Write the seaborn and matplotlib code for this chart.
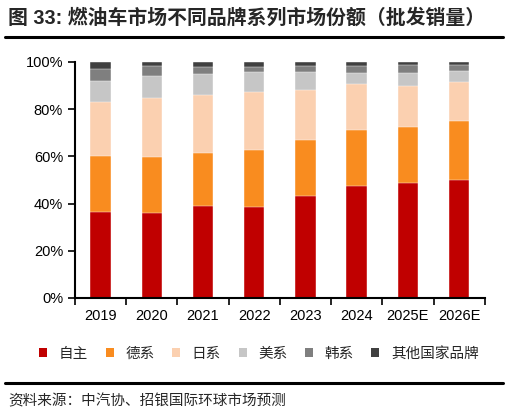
import matplotlib
matplotlib.use("Agg")
import matplotlib.pyplot as plt
from matplotlib.patches import Patch
from matplotlib.ticker import FixedLocator, PercentFormatter
import seaborn as sns
import pandas as pd
import numpy as np

years = ["2019", "2020", "2021", "2022", "2023", "2024", "2025E", "2026E"]
series_names = ["自主", "德系", "日系", "美系", "韩系", "其他国家品牌"]
zizhu = [36.5, 35.8, 39.0, 38.6, 43.3, 47.3, 48.5, 50.1]
dexi = [23.7, 24.0, 22.5, 24.2, 23.7, 23.7, 23.8, 25.0]
rixi = [22.7, 25.1, 24.5, 24.6, 21.2, 19.8, 17.6, 16.5]
meixi = [9.2, 9.3, 9.0, 8.4, 7.7, 4.7, 5.6, 4.7]
hanxi = [4.9, 4.0, 3.0, 2.1, 2.5, 2.9, 3.2, 2.4]
qita = [3.0, 1.8, 2.0, 2.1, 1.6, 1.6, 1.3, 1.3]
colors = ["#C00000", "#F98C1F", "#FBD0B0", "#C6C6C6", "#7F7F7F", "#404040"]

sns.set_style("white")
plt.rcParams["font.family"] = ["Liberation Sans", "Noto Sans CJK SC", "DejaVu Sans"]

df = pd.DataFrame({"year": years, "自主": zizhu, "德系": dexi, "日系": rixi,
                   "美系": meixi, "韩系": hanxi, "其他国家品牌": qita})
cum = df[series_names].cumsum(axis=1)

fig = plt.figure(figsize=(5.13, 4.16), dpi=100)
ax = fig.add_axes([0.146, 0.284, 0.799, 0.567])

for name, col in reversed(list(zip(series_names, colors))):
    sns.barplot(x=df["year"], y=cum[name], order=years, color=col, width=0.4,
                saturation=1, ax=ax, edgecolor="white", linewidth=0.3)

ax.set_xlim(-0.5, len(years) - 0.5)
ax.set_ylim(0, 100)
ax.set_xlabel("")
ax.set_ylabel("")
ax.yaxis.set_major_locator(FixedLocator([0, 20, 40, 60, 80, 100]))
ax.yaxis.set_major_formatter(PercentFormatter(decimals=0))
ax.set_xticks(range(len(years)))
ax.set_xticklabels(years)
ax.xaxis.set_minor_locator(FixedLocator(np.arange(-0.5, len(years), 1.0)))
ax.tick_params(axis="x", which="major", length=0, pad=8, labelsize=10.5, colors="black")
ax.tick_params(axis="x", which="minor", length=5, width=1.2, direction="out", color="black", bottom=True)
ax.tick_params(axis="y", length=5, width=1.2, direction="out", labelsize=10.5, colors="black", left=True)
for s in ["top", "right"]:
    ax.spines[s].set_visible(False)
for s in ["left", "bottom"]:
    ax.spines[s].set_color("black")
    ax.spines[s].set_linewidth(1.5)

# Title and rules
fig.text(0.016, 0.957, "图 33: 燃油车市场不同品牌系列市场份额（批发销量）", fontsize=14.3,
         fontweight="bold", va="center", ha="left",
         family=["Liberation Sans", "Noto Sans CJK SC", "DejaVu Sans"])
fig.add_artist(plt.Line2D([0.01, 0.98], [1 - 37 / 416] * 2, color="black", lw=2.2))
fig.add_artist(plt.Line2D([0.01, 0.98], [1 - 383 / 416] * 2, color="black", lw=2.2))
fig.text(0.016, 1 - 401 / 416, "资料来源：中汽协、招银国际环球市场预测", fontsize=10.5,
         va="center", ha="left", family=["Noto Sans CJK SC", "DejaVu Sans"])

handles = [Patch(facecolor=c, edgecolor="none", label=n) for n, c in zip(series_names, colors)]
leg = fig.legend(handles=handles, loc="center", bbox_to_anchor=(0.505, 1 - 354 / 416), ncol=6,
                 frameon=False, handlelength=0.55, handleheight=0.55, handletextpad=0.8,
                 columnspacing=1.2, prop={"family": ["Noto Sans CJK SC", "DejaVu Sans"], "size": 10.5})

fig.savefig("out.png", dpi=100)
